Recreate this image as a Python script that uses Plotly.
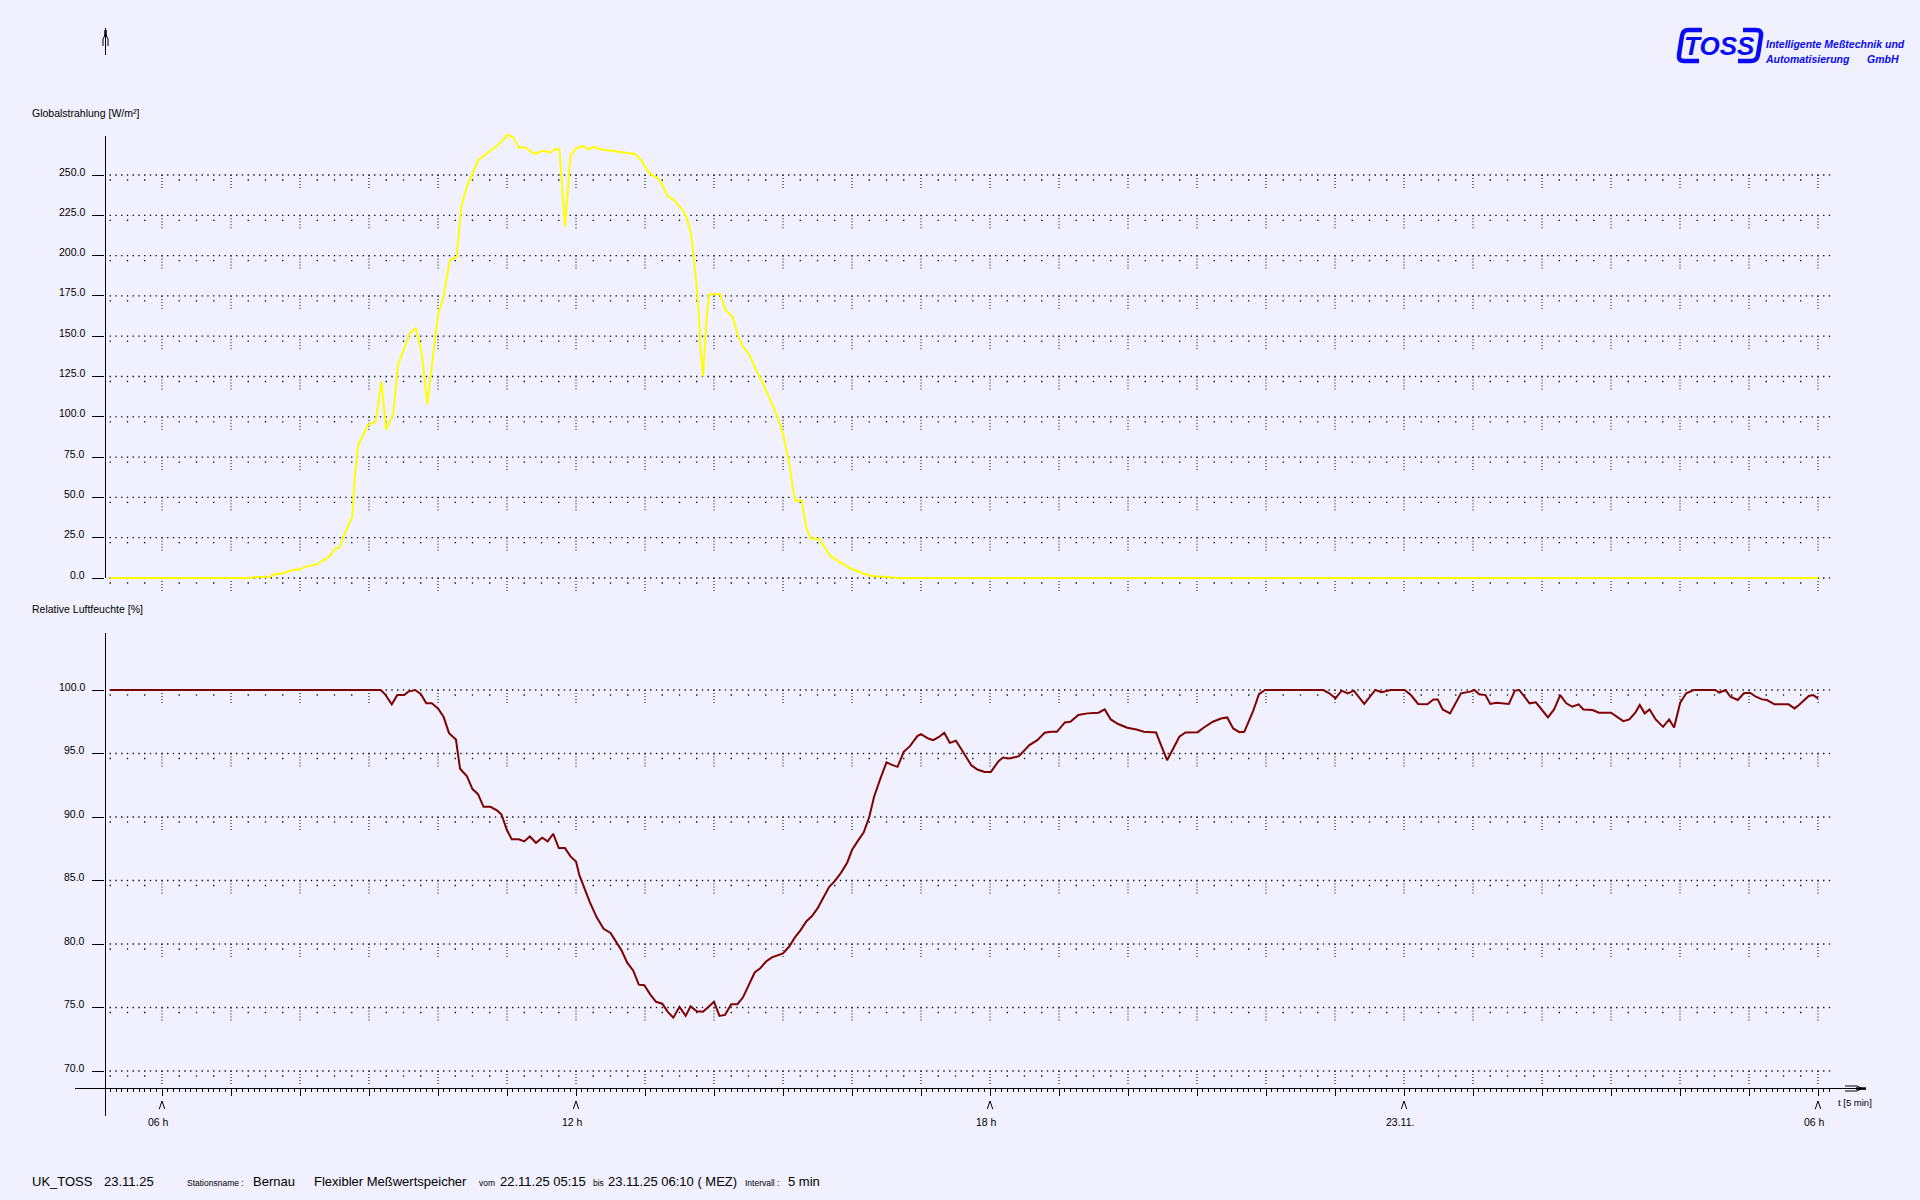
import numpy as np
import plotly.graph_objects as go

# ---------------- data ----------------
# time in hours since 22.11.25 00:00
rad_t = [5.25, 7.30, 7.343, 7.56, 7.633, 7.754, 7.874, 7.995, 8.092, 8.237, 8.333, 8.43, 8.502, 8.575,
         8.647, 8.758, 8.79, 8.84, 8.985, 9.097, 9.18, 9.25, 9.35, 9.42, 9.49, 9.59, 9.676, 9.76, 9.845,
         9.90, 10.0, 10.08, 10.17, 10.27, 10.34, 10.42, 10.58, 10.70, 10.88, 11.01, 11.10, 11.17, 11.27,
         11.40, 11.52, 11.63, 11.69, 11.76, 11.84, 11.92, 12.0, 12.10, 12.17, 12.27, 12.34, 12.51, 12.68,
         12.85, 12.95, 13.0, 13.07, 13.19, 13.26, 13.33, 13.43, 13.53, 13.60, 13.67, 13.70, 13.74, 13.78,
         13.80, 13.84, 13.86, 13.89, 13.93, 14.09, 14.17, 14.27, 14.35, 14.42, 14.52, 14.61, 14.71, 14.83,
         14.93, 15.0, 15.05, 15.10, 15.14, 15.18, 15.27, 15.34, 15.41, 15.51, 15.60, 15.68, 15.82, 15.97,
         16.14, 16.28, 16.5, 16.69, 30.0]
rad_v = [0, 0, 0.6, 0.8, 2.3, 3.0, 4.8, 5.4, 7.2, 8.3, 11, 13.5, 18, 19,
         27.5, 38, 60.6, 82, 95, 97, 122, 92, 102, 132, 140, 152, 155, 141, 108,
         127, 163, 174.5, 197, 199, 231, 243, 259, 263, 269, 275, 273, 267, 267,
         263, 265, 264, 266, 266, 218, 262, 266.5, 268, 266, 267.6, 266, 265, 264,
         263, 259, 255, 250.7, 248, 243, 237, 234, 229, 224, 213, 201, 185, 164,
         144.5, 125, 141, 159, 176, 176, 166, 162, 150, 143.5, 138, 129, 120.7, 109,
         99, 89.6, 79, 69, 56.5, 48, 48, 30.6, 24.4, 24.4, 19.3, 14, 10, 6.2,
         3.1, 1.2, 0.6, 0, 0]

hum_t = [5.25, 9.17, 9.23, 9.33, 9.41, 9.51, 9.57, 9.67, 9.75, 9.83, 9.91, 10.0, 10.08, 10.16, 10.26,
         10.32, 10.42, 10.50, 10.58, 10.66, 10.76, 10.86, 10.92, 11.0, 11.07, 11.17, 11.25, 11.33, 11.42,
         11.51, 11.59, 11.67, 11.75, 11.84, 11.92, 12.0, 12.05, 12.13, 12.2, 12.3, 12.40, 12.50, 12.58,
         12.66, 12.74, 12.83, 12.91, 12.99, 13.08, 13.16, 13.25, 13.33, 13.41, 13.50, 13.59, 13.66, 13.75,
         13.84, 13.91, 14.0, 14.08, 14.16, 14.25, 14.34, 14.42, 14.50, 14.59, 14.67, 14.75, 14.84, 15.0,
         15.09, 15.17, 15.25, 15.34, 15.42, 15.50, 15.58, 15.67, 15.75, 15.84, 15.93, 16.0, 16.08, 16.17,
         16.25, 16.32, 16.41, 16.50, 16.58, 16.66, 16.75, 16.84, 16.947, 17.0, 17.106, 17.177, 17.266,
         17.337, 17.417, 17.506, 17.594, 17.728, 17.816, 17.923, 18.012, 18.127, 18.19, 18.278, 18.42,
         18.571, 18.686, 18.792, 18.881, 18.97, 19.085, 19.165, 19.28, 19.413, 19.573, 19.662, 19.75,
         19.857, 19.99, 20.123, 20.23, 20.407, 20.46, 20.567, 20.656, 20.744, 20.833, 21.01, 21.1, 21.23,
         21.348, 21.437, 21.525, 21.614, 21.685, 21.81, 21.898, 21.987, 22.83, 22.918, 23.007, 23.096,
         23.185, 23.273, 23.424, 23.584, 23.673, 23.806, 24.01, 24.1, 24.205, 24.338, 24.427, 24.489,
         24.56, 24.667, 24.826, 24.959, 25.02, 25.09, 25.18, 25.25, 25.34, 25.52, 25.607, 25.67, 25.82,
         25.91, 25.963, 26.086, 26.175, 26.264, 26.352, 26.44, 26.53, 26.6, 26.734, 26.823, 27.0, 27.178,
         27.266, 27.355, 27.417, 27.488, 27.559, 27.648, 27.754, 27.843, 27.914, 28.003, 28.09, 28.198,
         28.51, 28.57, 28.66, 28.73, 28.837, 28.926, 29.014, 29.1, 29.19, 29.26, 29.37, 29.573, 29.66,
         29.724, 29.866, 29.93, 30.0]
hum_v = [100, 100, 99.68, 98.87, 99.6, 99.6, 99.87, 100, 99.68, 98.95, 98.95, 98.55, 97.9, 96.6, 96.1,
         93.8, 93.2, 92.2, 91.8, 90.8, 90.8, 90.5, 90.2, 88.95, 88.24, 88.24, 88.08, 88.47, 87.97,
         88.37, 88.08, 88.68, 87.55, 87.55, 86.9, 86.5, 85.4, 84.2, 83.3, 82.1, 81.2, 80.87, 80.2,
         79.5, 78.55, 77.9, 76.8, 76.76, 76.0, 75.45, 75.3, 74.66, 74.2, 75.05, 74.34, 75.1, 74.7,
         74.66, 75.0, 75.45, 74.34, 74.42, 75.26, 75.26, 75.8, 76.76, 77.76, 78.08, 78.6, 78.95, 79.26,
         79.8, 80.5, 81.05, 81.8, 82.2, 82.8, 83.6, 84.5, 84.95, 85.6, 86.4, 87.4, 88.08, 88.8,
         90.0, 91.6, 93.0, 94.3, 94.1, 93.95, 95.13, 95.58, 96.37, 96.53, 96.18, 96.05, 96.32,
         96.63, 95.84, 96.0, 95.26, 94.08, 93.74, 93.55, 93.55, 94.42, 94.68, 94.6, 94.79,
         95.66, 96.05, 96.63, 96.71, 96.71, 97.45, 97.5, 98.03, 98.16, 98.21, 98.47, 97.68,
         97.32, 97.03, 96.89, 96.71, 96.66, 95.92, 94.47, 95.39, 96.32, 96.66, 96.68, 97.05, 97.5,
         97.76, 97.84, 96.97, 96.68, 96.71, 98.29, 99.68, 100, 100, 99.74, 99.34, 99.95,
         99.74, 99.95, 98.9, 100, 99.82, 100, 100, 99.6, 98.9, 98.87, 99.26, 99.26,
         98.47, 98.16, 99.74, 99.87, 100, 99.66, 99.6, 98.9, 99.0, 98.9, 99.95, 100, 98.95,
         99.03, 98.68, 97.84, 98.47, 99.6, 98.95, 98.68, 98.87, 98.47, 98.42, 98.21, 98.21, 97.55,
         97.68, 98.24, 98.82, 98.16, 98.47, 97.68, 97.1, 97.68, 97.05, 99.0, 99.74, 100,
         100, 99.79, 100, 99.47, 99.21, 99.74, 99.79, 99.47, 99.26, 99.21, 98.87, 98.87, 98.55,
         98.82, 99.53, 99.6, 99.34]

rad_ticks = [0, 25, 50, 75, 100, 125, 150, 175, 200, 225, 250]
hum_ticks = [70, 75, 80, 85, 90, 95, 100]
x_ticks = [6, 12, 18, 24, 30]
x_tick_text = ["06 h", "12 h", "18 h", "23.11.", "06 h"]
t_start, t_end = 5.25, 30 + 10 / 60

# ---------------- geometry (page pixels) ----------------
W, H = 1920, 1200
BG = "#F0F0FE"
FONT = "Liberation Sans, Arial, sans-serif"
PXH = 69.0          # px per hour
X06 = 162.0         # px position of 06 h
XL, XR = 105.0, 1865.0
T0 = 6 + (XL - X06) / PXH
T1 = 6 + (XR - X06) / PXH

TOP_PPU = 1.612
TOP_Y0 = 578.0
top_dom_px = (130.0, 600.0)
BOT_PPU = 12.7
bot_dom_px = (633.0, 1088.0)


def fy(py):
    return 1 - py / H


def fx(px):
    return px / W


top_range = [(TOP_Y0 - top_dom_px[1]) / TOP_PPU, (TOP_Y0 - top_dom_px[0]) / TOP_PPU]
bot_range = [100 - (bot_dom_px[1] - 690) / BOT_PPU, 100 - (bot_dom_px[0] - 690) / BOT_PPU]

fig = go.Figure()

# ---------------- grids ----------------
n5 = int(round((t_end - t_start) * 12)) + 1
five = [t_start + i / 12 for i in range(n5)]
quarters = [t_start + i * 0.25 for i in range(int((30 - t_start) / 0.25) + 1)]
quarters = [q for q in quarters if abs(q - round(q)) > 1e-6]
hours = list(range(6, 31))

DOT = dict(symbol="square", size=1.3, color="#000000", line=dict(width=0))


def add_grid(levels, xa, ya, ppu):
    xs, ys = [], []
    for lv in levels:
        xs += five
        ys += [lv] * len(five)
    fig.add_trace(go.Scatter(x=xs, y=ys, mode="markers", xaxis=xa, yaxis=ya, marker=DOT,
                             hoverinfo="skip", showlegend=False))
    xs, ys = [], []
    for lv in levels:
        xs += quarters
        ys += [lv - 5.0 / ppu] * len(quarters)
    fig.add_trace(go.Scatter(x=xs, y=ys, mode="markers", xaxis=xa, yaxis=ya, marker=DOT,
                             hoverinfo="skip", showlegend=False))
    xs, ys = [], []
    for lv in levels:
        for h in hours:
            xs += [h, h, None]
            ys += [lv, lv - 13.5 / ppu, None]
    fig.add_trace(go.Scatter(x=xs, y=ys, mode="lines", xaxis=xa, yaxis=ya,
                             line=dict(color="#000000", width=1, dash="1px,2px"),
                             hoverinfo="skip", showlegend=False))


add_grid(rad_ticks, "x", "y", TOP_PPU)
add_grid(hum_ticks, "x2", "y2", BOT_PPU)

# ---------------- data ----------------
fig.add_trace(go.Scatter(x=rad_t, y=rad_v, mode="lines", xaxis="x", yaxis="y",
                         line=dict(color="#FFFF00", width=2), showlegend=False, hoverinfo="skip"))
fig.add_trace(go.Scatter(x=hum_t, y=hum_v, mode="lines", xaxis="x2", yaxis="y2",
                         line=dict(color="#800000", width=2), showlegend=False, hoverinfo="skip"))

# ---------------- axes ----------------
common_x = dict(range=[T0, T1], domain=[fx(XL), fx(XR)], showgrid=False, zeroline=False,
                showline=False, fixedrange=True)
common_y = dict(tickmode="array", ticks="outside", ticklen=12, tickwidth=1, tickcolor="#000000",
                showticklabels=False, showgrid=False, zeroline=False, showline=False, fixedrange=True)
fig.update_layout(
    xaxis=dict(**common_x, anchor="y", showticklabels=False, ticks=""),
    xaxis2=dict(**common_x, anchor="y2", showticklabels=False, ticks="outside",
                tickmode="array", tickvals=hours, ticklen=7, tickwidth=1, tickcolor="#000000",
                minor=dict(tickmode="array",
                           tickvals=[t for t in five if abs(t - round(t)) > 1e-6],
                           ticks="outside", ticklen=3, tickwidth=1, tickcolor="#000000")),
    yaxis=dict(range=top_range, domain=[fy(top_dom_px[1]), fy(top_dom_px[0])], anchor="x",
               tickvals=rad_ticks, **common_y),
    yaxis2=dict(range=bot_range, domain=[fy(bot_dom_px[1]), fy(bot_dom_px[0])], anchor="x2",
                tickvals=hum_ticks, **common_y),
)

# ---------------- shapes ----------------
shapes = []
K = dict(color="#000000", width=1)
shapes.append(dict(type="line", xref="paper", yref="paper", x0=fx(105.5), x1=fx(105.5),
                   y0=fy(136), y1=fy(578), line=K))
shapes.append(dict(type="line", xref="paper", yref="paper", x0=fx(105.5), x1=fx(105.5),
                   y0=fy(633), y1=fy(1116), line=K))
shapes.append(dict(type="line", xref="paper", yref="paper", x0=fx(75), x1=fx(1857),
                   y0=fy(1088.5), y1=fy(1088.5), line=K))
shapes.append(dict(type="path", xref="paper", yref="paper",
                   path="M %f,%f L %f,%f L %f,%f L %f,%f L %f,%f" % (
                       fx(1845), fy(1086), fx(1857), fy(1086), fx(1862), fy(1088.5),
                       fx(1857), fy(1091), fx(1845), fy(1091)),
                   line=dict(color="#000000", width=1)))
shapes.append(dict(type="rect", xref="paper", yref="paper", x0=fx(1856), x1=fx(1866),
                   y0=fy(1087.3), y1=fy(1089.8), fillcolor="#000000", line=dict(width=0)))
shapes.append(dict(type="line", xref="paper", yref="paper", x0=fx(105.5), x1=fx(105.5),
                   y0=fy(28), y1=fy(55), line=K))
shapes.append(dict(type="rect", xref="paper", yref="paper", x0=fx(104.3), x1=fx(106.7),
                   y0=fy(30), y1=fy(37), fillcolor="#000000", line=dict(width=0)))
for s in (-1, 1):
    shapes.append(dict(type="path", xref="paper", yref="paper",
                       path="M %f,%f L %f,%f L %f,%f" % (fx(105.5), fy(34), fx(105.5 + s * 2.5), fy(39),
                                                       fx(105.5 + s * 2.5), fy(46)),
                       line=K))
for h in x_ticks:
    d = 2.7 / PXH
    shapes.append(dict(type="path", xref="x2", yref="paper",
                       path="M %f,%f L %f,%f L %f,%f" % (h - d, fy(1109), h, fy(1101), h + d, fy(1109)),
                       line=K))
BLUE = "#0A0AF5"
shapes.append(dict(type="path", xref="paper", yref="paper",
                   path="M %f,%f L %f,%f Q %f,%f %f,%f L %f,%f Q %f,%f %f,%f L %f,%f" % (
                       fx(1702), fy(30), fx(1688), fy(30), fx(1683), fy(30), fx(1682), fy(36),
                       fx(1679), fy(55), fx(1678), fy(61), fx(1684), fy(61), fx(1699), fy(61)),
                   line=dict(color=BLUE, width=4.5)))
shapes.append(dict(type="path", xref="paper", yref="paper",
                   path="M %f,%f L %f,%f Q %f,%f %f,%f L %f,%f Q %f,%f %f,%f L %f,%f" % (
                       fx(1743), fy(30), fx(1756), fy(30), fx(1762), fy(30), fx(1761), fy(36),
                       fx(1758), fy(55), fx(1757), fy(61), fx(1751), fy(61), fx(1738), fy(61)),
                   line=dict(color=BLUE, width=4.5)))
fig.update_layout(shapes=shapes)

# ---------------- annotations ----------------
ann = []


def txt(x, y, s, size, anchor="left", color="#000000", bold=False, italic=False, xref="paper"):
    if bold:
        s = "<b>%s</b>" % s
    if italic:
        s = "<i>%s</i>" % s
    ann.append(dict(xref=xref, yref="paper", x=(fx(x) if xref == "paper" else x), y=fy(y), text=s,
                    showarrow=False, xanchor=anchor, yanchor="middle",
                    font=dict(family=FONT, size=size, color=color)))


# y tick labels (slightly above their tick, as in the original)
for v in rad_ticks:
    ann.append(dict(xref="paper", yref="y", x=fx(87), y=v, text="%.1f" % v, showarrow=False,
                    xanchor="right", yanchor="middle", yshift=3.5,
                    font=dict(family=FONT, size=10.5, color="#000000")))
for v in hum_ticks:
    ann.append(dict(xref="paper", yref="y2", x=fx(87), y=v, text="%.1f" % v, showarrow=False,
                    xanchor="right", yanchor="middle", yshift=3.5,
                    font=dict(family=FONT, size=10.5, color="#000000")))

txt(30, 112.7, "Globalstrahlung [W/m²]", 10.5)
txt(30, 609, "Relative Luftfeuchte [%]", 10.5)

for h, lab in zip(x_ticks, x_tick_text):
    ann.append(dict(xref="x2", yref="paper", x=h, y=fy(1122), text=lab, showarrow=False,
                    xanchor="center", yanchor="middle", xshift=-4,
                    font=dict(family=FONT, size=10.5, color="#000000")))
txt(1836, 1102, "t [5 min]", 9.5)

big, small = 13, 8.5
txt(30, 1181.7, "UK_TOSS", big)
txt(102, 1181.7, "23.11.25", big)
txt(185, 1183.2, "Stationsname :", small)
txt(251, 1181.7, "Bernau", big)
txt(312, 1181.7, "Flexibler Meßwertspeicher", big)
txt(477, 1183.2, "vom", small)
txt(498, 1181.7, "22.11.25 05:15", big)
txt(591, 1183.2, "bis", small)
txt(606, 1181.7, "23.11.25 06:10 ( MEZ)", big)
txt(743, 1183.2, "Intervall :", small)
txt(786, 1181.7, "5 min", big)

txt(1719, 45.5, "TOSS", 26, anchor="center", color=BLUE, bold=True, italic=True)
txt(1764, 44, "Intelligente Meßtechnik und", 10.5, color=BLUE, bold=True, italic=True)
txt(1763, 59, "Automatisierung", 10.5, color=BLUE, bold=True, italic=True)
txt(1865, 59, "GmbH", 10.5, color=BLUE, bold=True, italic=True)

fig.update_layout(annotations=ann)

fig.update_layout(width=W, height=H, margin=dict(l=0, r=0, t=0, b=0),
                  paper_bgcolor=BG, plot_bgcolor=BG, showlegend=False, hovermode=False)

fig.write_html("out.html", config={"displayModeBar": False, "staticPlot": True},
               post_script="document.body.style.margin='0';document.body.style.overflow='hidden';"
                           "document.body.style.background='%s';" % BG)
